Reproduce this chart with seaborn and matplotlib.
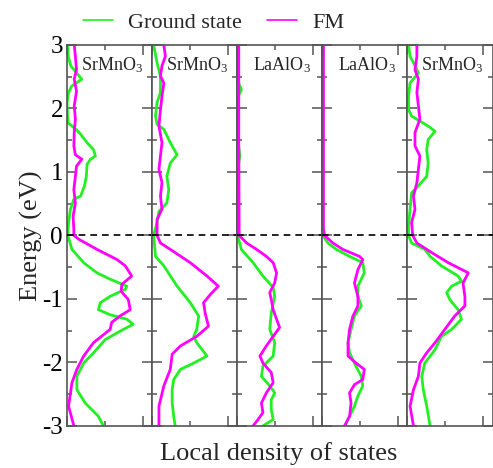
import numpy as np
import pandas as pd
import matplotlib
matplotlib.use("Agg")
import matplotlib.pyplot as plt
from matplotlib.lines import Line2D
from matplotlib.ticker import MultipleLocator
import seaborn as sns

# ---------------- data ----------------
panel_labels = ["SrMnO$_3$", "SrMnO$_3$", "LaAlO$_3$", "LaAlO$_3$", "SrMnO$_3$"]
series_names = ["Ground state", "FM"]
y_ticks = [3, 2, 1, 0, -1, -2, -3]
y_tick_labels = ["3", "2", "1", "0", "-1", "-2", "-3"]

p1_gs_energy = [3.0, 2.82, 2.67, 2.56, 2.46, 2.35, 2.25, 2.1, 1.9, 1.77, 1.7, 1.6, 1.46, 1.35, 1.25, 1.2, 1.12, 0.93,
                0.78, 0.62, 0.57, 0.41, 0.2, 0.0, -0.22, -0.43, -0.59, -0.69, -0.80, -0.85, -0.96, -1.06, -1.17,
                -1.25, -1.32, -1.40, -1.48, -1.64, -1.85, -2.01, -2.22, -2.43, -2.64, -2.85, -3.0]
p1_gs_dos = [0.02, 0.03, 0.1, 0.25, 0.39, 0.12, 0.04, 0.0, 0.01, 0.03, 0.18, 0.35, 0.53, 0.7, 0.75, 0.62, 0.53, 0.51,
             0.46, 0.36, 0.18, 0.09, 0.04, 0.02, 0.13, 0.44, 0.79, 1.14, 1.58, 1.54, 1.14, 0.88, 0.83,
             1.14, 1.58, 1.75, 1.49, 1.01, 0.70, 0.44, 0.26, 0.26, 0.48, 0.83, 0.96]
p1_fm_energy = [3.0, 2.82, 2.61, 2.46, 2.27, 2.04, 1.83, 1.62, 1.41, 1.27, 1.20, 1.09, 0.93, 0.72, 0.51, 0.30, 0.09,
                0.0, -0.06, -0.22, -0.38, -0.48, -0.64, -0.77, -0.88, -1.01, -1.17, -1.27, -1.37, -1.48, -1.69,
                -1.90, -2.11, -2.32, -2.69, -3.0]
p1_fm_dos = [0.19, 0.22, 0.25, 0.19, 0.25, 0.19, 0.22, 0.19, 0.18, 0.22, 0.39, 0.25, 0.22, 0.18, 0.22, 0.16, 0.18,
             0.18, 0.31, 0.79, 1.32, 1.54, 1.71, 1.45, 1.43, 1.62, 1.67, 1.40, 1.18, 1.14, 0.70,
             0.44, 0.26, 0.13, 0.04, 0.18]

p2_gs_energy = [3.0, 2.72, 2.51, 2.25, 2.09, 1.88, 1.75, 1.67, 1.46, 1.27, 1.14, 0.93, 0.72, 0.51, 0.38, 0.20, 0.0,
                -0.33, -0.48, -0.80, -1.06, -1.27, -1.48, -1.59, -1.69, -1.90, -2.01, -2.11, -2.27, -2.43, -2.64,
                -2.85, -3.0]
p2_gs_dos = [0.04, 0.13, 0.22, 0.22, 0.13, 0.09, 0.13, 0.31, 0.48, 0.66, 0.48, 0.39, 0.44, 0.39, 0.18, 0.13, 0.04,
             0.09, 0.31, 0.66, 1.01, 1.23, 1.18, 1.10, 1.18, 1.45, 1.10, 0.75, 0.57, 0.53, 0.53,
             0.57, 0.61]
p2_fm_energy = [3.0, 2.82, 2.67, 2.51, 2.40, 2.19, 1.98, 1.72, 1.46, 1.25, 1.04, 0.83, 0.62, 0.41, 0.25, 0.0,
                -0.12, -0.22, -0.43, -0.64, -0.80, -0.93, -1.06, -1.22, -1.43, -1.59, -1.74, -1.87, -2.11, -2.37,
                -2.69, -3.0]
p2_fm_dos = [0.31, 0.35, 0.26, 0.22, 0.31, 0.26, 0.22, 0.18, 0.26, 0.22, 0.18, 0.26, 0.22, 0.26, 0.13, 0.13,
             0.22, 0.48, 1.01, 1.45, 1.75, 1.54, 1.36, 1.40, 1.49, 1.18, 0.75, 0.53, 0.48, 0.31,
             0.18, 0.18]

p3_gs_energy = [3.0, 2.5, 2.38, 2.3, 2.2, 2.0, 1.5, 1.35, 1.25, 1.1, 0.5, 0.0, -0.22, -0.43, -0.64, -0.82, -0.96,
                -1.22, -1.48, -1.69, -1.90, -2.06, -2.22, -2.37, -2.48, -2.59, -2.74, -2.90, -3.0]
p3_gs_dos = [0.01, 0.01, 0.05, 0.11, 0.04, 0.02, 0.02, 0.05, 0.07, 0.03, 0.02, 0.01, 0.11, 0.42, 0.68, 0.95, 0.99,
             0.90, 0.86, 0.99, 0.95, 0.68, 0.64, 0.86, 0.99, 0.90, 0.90, 0.95, 0.68]
p3_fm_energy = [3.0, 1.5, 0.1, 0.0, -0.12, -0.22, -0.33, -0.43, -0.59, -0.75, -0.90, -1.01, -1.17, -1.32, -1.45,
                -1.59, -1.74, -1.90, -2.01, -2.16, -2.32, -2.48, -2.64, -2.79, -2.90, -3.0]
p3_fm_dos = [0.04, 0.04, 0.05, 0.05, 0.25, 0.51, 0.77, 0.95, 1.04, 0.99, 0.86, 0.90, 0.95, 1.04, 1.12,
             0.95, 0.77, 0.60, 0.68, 0.90, 0.95, 0.77, 0.64, 0.68, 0.55, 0.42]

p4_gs_energy = [3.0, 0.0, -0.12, -0.22, -0.33, -0.43, -0.59, -0.80, -0.96, -1.11, -1.27, -1.48, -1.69, -1.85,
                -2.06, -2.22, -2.37, -2.53, -2.69, -2.85, -3.0]
p4_gs_dos = [0.01, 0.01, 0.15, 0.37, 0.72, 1.07, 1.11, 0.94, 0.94, 1.03, 0.85, 0.76, 0.68, 0.72,
             0.89, 1.03, 1.07, 0.94, 0.85, 0.72, 0.59]
p4_fm_energy = [3.0, 0.1, 0.0, -0.12, -0.22, -0.33, -0.38, -0.54, -0.75, -0.96, -1.11, -1.27, -1.48, -1.69,
                -1.90, -2.01, -2.11, -2.27, -2.35, -2.48, -2.64, -2.85, -3.0]
p4_fm_dos = [0.03, 0.03, 0.06, 0.28, 0.54, 0.98, 1.07, 0.94, 0.85, 0.94, 0.94, 0.81, 0.72, 0.68,
             0.68, 0.89, 1.11, 1.07, 0.85, 0.72, 0.76, 0.72, 0.59]

p5_gs_energy = [3.0, 2.82, 2.72, 2.56, 2.40, 2.19, 1.98, 1.88, 1.83, 1.72, 1.64, 1.51, 1.35, 1.14, 0.93, 0.78,
                0.67, 0.41, 0.15, 0.0, -0.12, -0.22, -0.33, -0.48, -0.64, -0.72, -0.80, -0.90, -1.01, -1.17,
                -1.32, -1.48, -1.59, -1.80, -2.01, -2.22, -2.43, -2.69, -3.0]
p5_gs_dos = [0.03, 0.07, 0.16, 0.29, 0.07, 0.03, 0.03, 0.11, 0.25, 0.55, 0.73, 0.55, 0.51, 0.55, 0.51, 0.29,
             0.11, 0.07, 0.03, 0.03, 0.11, 0.46, 0.60, 0.90, 1.34, 1.43, 1.17, 1.04, 1.12, 1.34,
             1.43, 1.17, 0.90, 0.73, 0.46, 0.38, 0.42, 0.51, 0.60]
p5_fm_energy = [3.0, 2.82, 2.61, 2.46, 2.25, 2.04, 1.83, 1.62, 1.41, 1.25, 1.04, 0.83, 0.62, 0.41, 0.20, 0.0,
                -0.12, -0.27, -0.43, -0.59, -0.75, -0.96, -1.11, -1.27, -1.48, -1.69, -1.85, -2.01, -2.22,
                -2.43, -2.69, -3.0]
p5_fm_dos = [0.25, 0.25, 0.20, 0.29, 0.25, 0.29, 0.33, 0.20, 0.20, 0.33, 0.29, 0.25, 0.16, 0.20, 0.11, 0.14,
             0.25, 0.64, 1.08, 1.61, 1.47, 1.52, 1.52, 1.25, 0.99, 0.73, 0.51, 0.33, 0.29,
             0.16, 0.07, 0.16]

panels = [
    (p1_gs_energy, p1_gs_dos, p1_fm_energy, p1_fm_dos),
    (p2_gs_energy, p2_gs_dos, p2_fm_energy, p2_fm_dos),
    (p3_gs_energy, p3_gs_dos, p3_fm_energy, p3_fm_dos),
    (p4_gs_energy, p4_gs_dos, p4_fm_energy, p4_fm_dos),
    (p5_gs_energy, p5_gs_dos, p5_fm_energy, p5_fm_dos),
]

# ---------------- style ----------------
sns.set_style("ticks")
plt.rcParams["font.family"] = ["Liberation Serif", "DejaVu Serif"]
plt.rcParams["mathtext.fontset"] = "custom"
plt.rcParams["mathtext.rm"] = "Liberation Serif"
plt.rcParams["mathtext.it"] = "Liberation Serif:italic"
plt.rcParams["axes.unicode_minus"] = False

GREEN = "#22f022"
MAGENTA = "#ff00ff"
SPINE = "#555555"

fig, axes = plt.subplots(1, 5, sharey=True, figsize=(4.93, 4.68), dpi=100)
fig.subplots_adjust(left=0.136, right=0.999, top=0.904, bottom=0.090, wspace=0)

for i, (ax, (ge, gd, fe, fd)) in enumerate(zip(axes, panels)):
    df_gs = pd.DataFrame({"energy": ge, "dos": gd})
    df_fm = pd.DataFrame({"energy": fe, "dos": fd})
    sns.lineplot(data=df_gs, x="dos", y="energy", orient="y", sort=False, estimator=None,
                 color=GREEN, linewidth=2.0, ax=ax, legend=False)
    sns.lineplot(data=df_fm, x="dos", y="energy", orient="y", sort=False, estimator=None,
                 color=MAGENTA, linewidth=2.0, ax=ax, legend=False)
    ax.axhline(0, color="black", linestyle=(0, (4, 3)), linewidth=1.2, zorder=5)
    ax.set_xlim(0, 2.25)
    ax.set_ylim(-3, 3)
    ax.set_xlabel("")
    ax.set_ylabel("")
    ax.xaxis.set_major_locator(MultipleLocator(2))
    ax.xaxis.set_minor_locator(MultipleLocator(1))
    ax.yaxis.set_major_locator(MultipleLocator(1))
    ax.yaxis.set_minor_locator(MultipleLocator(0.5))
    ax.tick_params(axis="both", which="both", direction="in", top=True, bottom=True,
                   left=True, right=True, colors=SPINE, labelcolor="black")
    ax.tick_params(axis="both", which="major", length=7, width=1.1)
    ax.tick_params(axis="both", which="minor", length=3.5, width=1.1)
    ax.tick_params(axis="x", labelbottom=False)
    if i > 0:
        ax.tick_params(axis="y", labelleft=False)
    for sp in ax.spines.values():
        sp.set_color(SPINE)
        sp.set_linewidth(1.2)
    ax.text(1.18, 2.68, panel_labels[i], ha="center", va="center", fontsize=13)

axes[0].set_yticks(y_ticks)
axes[0].set_yticklabels(y_tick_labels, fontsize=18)
axes[0].tick_params(axis="y", pad=3)

fig.text(31 / 493, 0.497, "Energy (eV)", rotation=90, ha="center", va="center", fontsize=19)
fig.text(0.565, 1 - 454 / 468, "Local density of states", ha="center", va="center", fontsize=19)

handles = [Line2D([], [], color=GREEN, linewidth=1.2), Line2D([], [], color=MAGENTA, linewidth=1.2)]
fig.legend(handles, series_names, loc="center", bbox_to_anchor=(0.433, 0.951), ncol=2, frameon=False,
           fontsize=16, handlelength=1.35, handletextpad=0.7, columnspacing=1.1, borderpad=0, borderaxespad=0)

fig.savefig("out.png", dpi=100)
